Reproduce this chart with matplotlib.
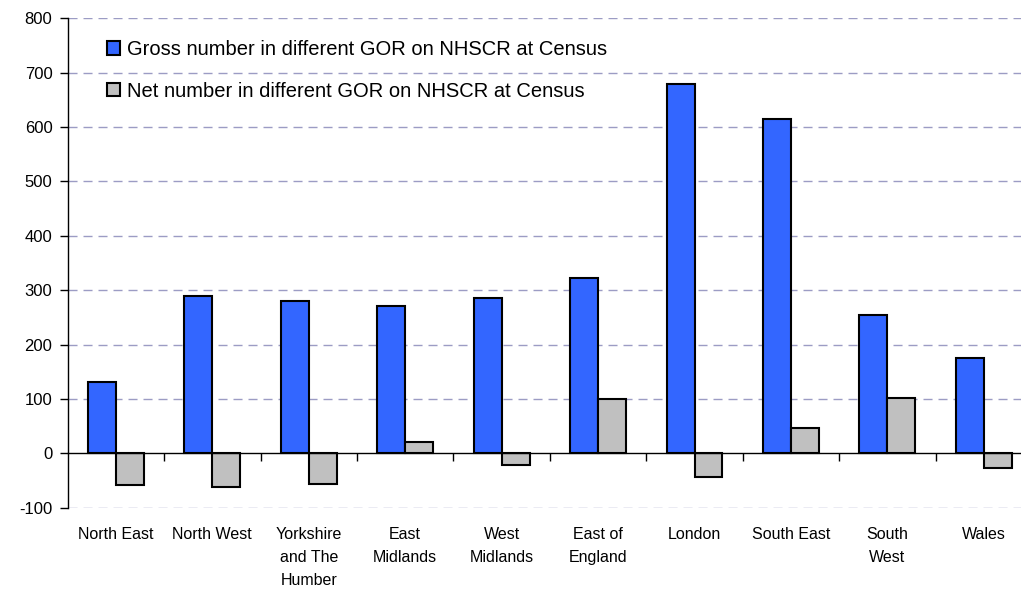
import numpy as np
import matplotlib.pyplot as plt
from matplotlib.patches import Patch

plt.rcParams['font.family'] = ['Liberation Sans', 'DejaVu Sans']
plt.rcParams['axes.unicode_minus'] = False

# Regions (government office regions) and values
regions = ["North East", "North West", "Yorkshire\nand The\nHumber", "East\nMidlands",
           "West\nMidlands", "East of\nEngland", "London", "South East", "South\nWest", "Wales"]
gross = [132, 289, 280, 271, 285, 323, 680, 614, 254, 175]
net = [-58, -61, -57, 21, -22, 100, -44, 46, 102, -27]

gross_label = "Gross number in different GOR on NHSCR at Census"
net_label = "Net number in different GOR on NHSCR at Census"

blue = '#3366ff'
grey = '#c0c0c0'
grid_col = '#9c9cc4'

fig = plt.figure(figsize=(10.21, 5.89), dpi=100)
# plot area runs slightly past the right edge, as in the original
ax = fig.add_axes([0.0663, 0.138, 0.9445, 0.831])

x = np.arange(len(regions))
w = 0.29
ax.bar(x - w / 2, gross, width=w, color=blue, edgecolor='black', linewidth=1.5, zorder=3)
ax.bar(x + w / 2, net, width=w, color=grey, edgecolor='black', linewidth=1.5, zorder=3)

ax.set_xlim(-0.5, len(regions) - 0.5)
ax.set_ylim(-100, 800)
ax.set_yticks(np.arange(-100, 801, 100))
ax.tick_params(axis='y', labelsize=12, length=6, width=1, direction='out', pad=5)

# dashed horizontal grid
for v in np.arange(-100, 801, 100):
    if v != 0:
        ax.axhline(v, color=grid_col, linewidth=1.0, linestyle=(0, (6.5, 4.3)), zorder=1)

# category axis sits on the zero line, ticks between categories
ax.spines['top'].set_visible(False)
ax.spines['right'].set_visible(False)
ax.spines['bottom'].set_position(('data', 0))
ax.spines['bottom'].set_zorder(4)
ax.spines['left'].set_linewidth(1.0)
ax.spines['bottom'].set_linewidth(1.0)
ax.set_xticks(x[:-1] + 0.5)
ax.set_xticklabels([])
ax.tick_params(axis='x', length=6, width=1, direction='out')

for i, name in enumerate(regions):
    ax.annotate(name, xy=(i, -100), xytext=(0, -14), textcoords='offset points',
                ha='center', va='top', fontsize=11.5, linespacing=1.66)

handles = [Patch(facecolor=blue, edgecolor='black', linewidth=1.5),
           Patch(facecolor=grey, edgecolor='black', linewidth=1.5)]
fig.legend(handles, [gross_label, net_label], loc='upper left',
           bbox_to_anchor=(0.1048, 0.932), bbox_transform=fig.transFigure,
           frameon=False, fontsize=14.5, borderpad=0, borderaxespad=0,
           handlelength=0.65, handleheight=0.65, handletextpad=0.35, labelspacing=1.12)

fig.savefig('out.png', dpi=100)
